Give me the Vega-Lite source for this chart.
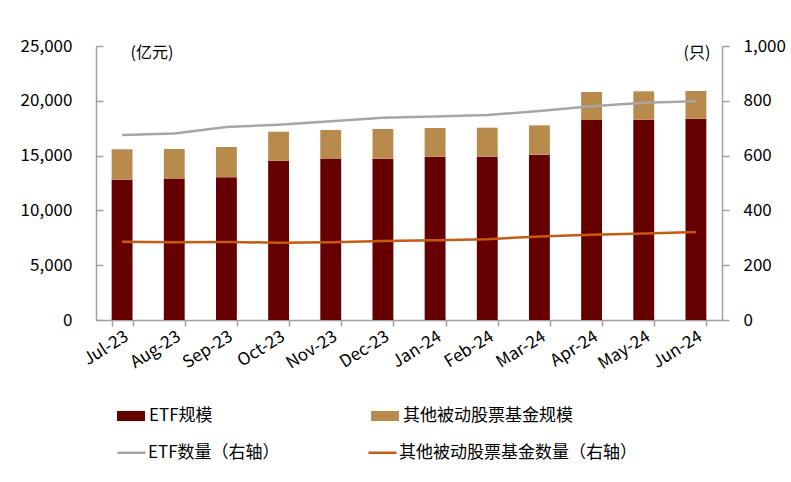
{
  "$schema": "https://vega.github.io/schema/vega-lite/v6.json",
  "width": 626,
  "height": 274,
  "autosize": {"type": "none"},
  "padding": {"left": 96, "top": 46, "right": 69, "bottom": 162},
  "config": {
    "view": {"stroke": null},
    "font": "Noto Sans CJK SC",
    "axis": {
      "grid": false,
      "domainColor": "#a0a0a0",
      "domainWidth": 1.5,
      "tickColor": "#a0a0a0",
      "tickWidth": 1.5,
      "labelColor": "#000000",
      "labelFontSize": 17,
      "labelFont": "Noto Sans CJK SC",
      "titleFont": "Noto Sans CJK SC",
      "titleFontSize": 16,
      "titleFontWeight": "normal",
      "titleColor": "#000000"
    },
    "legend": {
      "labelFontSize": 17,
      "labelFont": "Noto Sans CJK SC",
      "labelColor": "#000000",
      "labelOffset": 4,
      "labelLimit": 400,
      "padding": 0
    }
  },
  "datasets": {
    "bars": [
      {"month": "Jul-23", "series": "ETF规模", "value": 12800},
      {"month": "Jul-23", "series": "其他被动股票基金规模", "value": 2775},
      {"month": "Aug-23", "series": "ETF规模", "value": 12865},
      {"month": "Aug-23", "series": "其他被动股票基金规模", "value": 2735},
      {"month": "Sep-23", "series": "ETF规模", "value": 13020},
      {"month": "Sep-23", "series": "其他被动股票基金规模", "value": 2765},
      {"month": "Oct-23", "series": "ETF规模", "value": 14535},
      {"month": "Oct-23", "series": "其他被动股票基金规模", "value": 2645},
      {"month": "Nov-23", "series": "ETF规模", "value": 14690},
      {"month": "Nov-23", "series": "其他被动股票基金规模", "value": 2645},
      {"month": "Dec-23", "series": "ETF规模", "value": 14720},
      {"month": "Dec-23", "series": "其他被动股票基金规模", "value": 2705},
      {"month": "Jan-24", "series": "ETF规模", "value": 14900},
      {"month": "Jan-24", "series": "其他被动股票基金规模", "value": 2620},
      {"month": "Feb-24", "series": "ETF规模", "value": 14900},
      {"month": "Feb-24", "series": "其他被动股票基金规模", "value": 2645},
      {"month": "Mar-24", "series": "ETF规模", "value": 15085},
      {"month": "Mar-24", "series": "其他被动股票基金规模", "value": 2675},
      {"month": "Apr-24", "series": "ETF规模", "value": 18250},
      {"month": "Apr-24", "series": "其他被动股票基金规模", "value": 2550},
      {"month": "May-24", "series": "ETF规模", "value": 18275},
      {"month": "May-24", "series": "其他被动股票基金规模", "value": 2590},
      {"month": "Jun-24", "series": "ETF规模", "value": 18370},
      {"month": "Jun-24", "series": "其他被动股票基金规模", "value": 2525}
    ],
    "lines": [
      {"month": "Jul-23", "series": "ETF数量（右轴）", "value": 675},
      {"month": "Aug-23", "series": "ETF数量（右轴）", "value": 681},
      {"month": "Sep-23", "series": "ETF数量（右轴）", "value": 704},
      {"month": "Oct-23", "series": "ETF数量（右轴）", "value": 713},
      {"month": "Nov-23", "series": "ETF数量（右轴）", "value": 725},
      {"month": "Dec-23", "series": "ETF数量（右轴）", "value": 738},
      {"month": "Jan-24", "series": "ETF数量（右轴）", "value": 743},
      {"month": "Feb-24", "series": "ETF数量（右轴）", "value": 748},
      {"month": "Mar-24", "series": "ETF数量（右轴）", "value": 763},
      {"month": "Apr-24", "series": "ETF数量（右轴）", "value": 780},
      {"month": "May-24", "series": "ETF数量（右轴）", "value": 793},
      {"month": "Jun-24", "series": "ETF数量（右轴）", "value": 798},
      {"month": "Jul-23", "series": "其他被动股票基金数量（右轴）", "value": 286},
      {"month": "Aug-23", "series": "其他被动股票基金数量（右轴）", "value": 284},
      {"month": "Sep-23", "series": "其他被动股票基金数量（右轴）", "value": 285},
      {"month": "Oct-23", "series": "其他被动股票基金数量（右轴）", "value": 282},
      {"month": "Nov-23", "series": "其他被动股票基金数量（右轴）", "value": 284},
      {"month": "Dec-23", "series": "其他被动股票基金数量（右轴）", "value": 288},
      {"month": "Jan-24", "series": "其他被动股票基金数量（右轴）", "value": 291},
      {"month": "Feb-24", "series": "其他被动股票基金数量（右轴）", "value": 295},
      {"month": "Mar-24", "series": "其他被动股票基金数量（右轴）", "value": 305},
      {"month": "Apr-24", "series": "其他被动股票基金数量（右轴）", "value": 311},
      {"month": "May-24", "series": "其他被动股票基金数量（右轴）", "value": 316},
      {"month": "Jun-24", "series": "其他被动股票基金数量（右轴）", "value": 321}
    ]
  },
  "encoding": {
    "x": {
      "field": "month",
      "type": "ordinal",
      "sort": ["Jul-23","Aug-23","Sep-23","Oct-23","Nov-23","Dec-23","Jan-24","Feb-24","Mar-24","Apr-24","May-24","Jun-24"],
      "scale": {"paddingInner": 0.6, "paddingOuter": 0.3},
      "axis": {"title": null, "labelAngle": -32, "tickBand": "extent", "tickSize": 6, "labelPadding": 2}
    }
  },
  "layer": [
    {
      "data": {"name": "bars"},
      "mark": {"type": "bar"},
      "encoding": {
        "y": {
          "field": "value",
          "type": "quantitative",
          "stack": "zero",
          "scale": {"domain": [0, 25000], "nice": false},
          "axis": {
            "values": [0, 5000, 10000, 15000, 20000, 25000],
            "labelExpr": "datum.value >= 1000 ? floor(datum.value / 1000) + ',000' : '' + datum.value",
            "tickSize": -7,
            "labelPadding": 31,
            "title": "(亿元)",
            "titleAngle": 0,
            "titleAlign": "left",
            "titleBaseline": "middle",
            "titleX": 34,
            "titleY": 6
          }
        },
        "order": {"field": "series", "sort": "ascending"},
        "color": {
          "field": "series",
          "type": "nominal",
          "scale": {
            "domain": ["ETF规模", "其他被动股票基金规模"],
            "range": ["#660000", "#B88A4B"]
          },
          "legend": {
            "orient": "none",
            "legendX": 21,
            "legendY": 356,
            "direction": "horizontal",
            "columns": 2,
            "columnPadding": 158,
            "title": null,
            "symbolType": "M-1,-0.36H1V0.36H-1Z",
            "symbolSize": 784,
            "symbolStrokeWidth": 0
          }
        }
      }
    },
    {
      "data": {"name": "lines"},
      "mark": {"type": "line", "strokeWidth": 2.5},
      "encoding": {
        "y": {
          "field": "value",
          "type": "quantitative",
          "scale": {"domain": [0, 1000], "nice": false},
          "axis": {
            "orient": "right",
            "values": [0, 200, 400, 600, 800, 1000],
            "labelExpr": "datum.value >= 1000 ? floor(datum.value / 1000) + ',000' : '' + datum.value",
            "tickSize": 7,
            "labelPadding": 14,
            "title": "(只)",
            "titleAngle": 0,
            "titleAlign": "left",
            "titleBaseline": "middle",
            "titleX": -39,
            "titleY": 6
          }
        },
        "stroke": {
          "field": "series",
          "type": "nominal",
          "scale": {
            "domain": ["ETF数量（右轴）", "其他被动股票基金数量（右轴）"],
            "range": ["#A6A6A6", "#C65A11"]
          },
          "legend": {
            "orient": "none",
            "legendX": 20,
            "legendY": 391,
            "direction": "horizontal",
            "columns": 2,
            "columnPadding": 83,
            "labelOffset": 1,
            "title": null,
            "symbolType": "stroke",
            "symbolSize": 784,
            "symbolStrokeWidth": 2.5
          }
        }
      }
    }
  ],
  "resolve": {"scale": {"y": "independent"}}
}
